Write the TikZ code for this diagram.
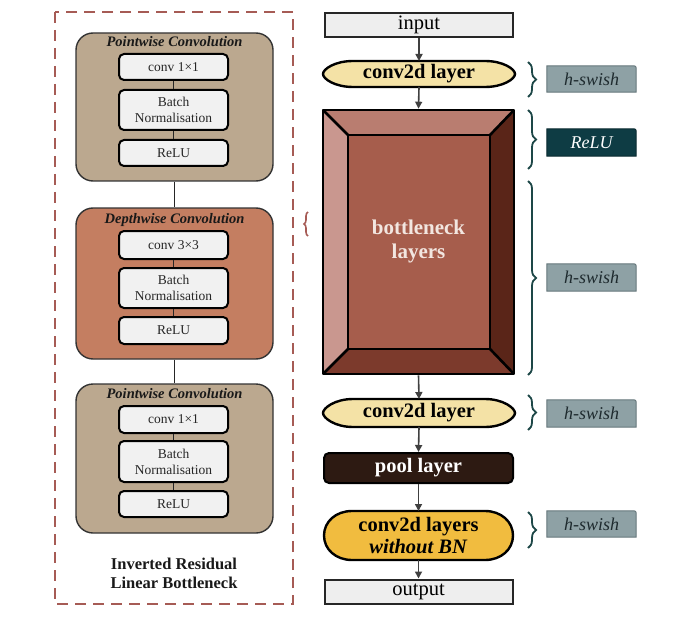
\documentclass[tikz,border=0pt]{standalone}
\usepackage{fontspec}
\setmainfont{Liberation Serif}
\usetikzlibrary{arrows.meta,decorations.pathreplacing,backgrounds}
\definecolor{dashc}{HTML}{A65B55}
\definecolor{pwc}{HTML}{BBA88F}
\definecolor{dwc}{HTML}{C47E61}
\definecolor{boxc}{HTML}{F1F1F1}
\definecolor{ioc}{HTML}{EEEEEE}
\definecolor{palec}{HTML}{F4E2A6}
\definecolor{goldc}{HTML}{F1BC3F}
\definecolor{poolc}{HTML}{2D1A12}
\definecolor{btop}{HTML}{B97D70}
\definecolor{bleft}{HTML}{C9978F}
\definecolor{bright}{HTML}{5A2518}
\definecolor{bbot}{HTML}{7C3A2C}
\definecolor{bcen}{HTML}{A65D4C}
\definecolor{btext}{HTML}{F2E6E0}
\definecolor{bracec}{HTML}{1D4747}
\definecolor{labfill}{HTML}{8EA1A5}
\definecolor{labdraw}{HTML}{66777B}
\definecolor{labtext}{HTML}{1E2A2E}
\definecolor{reluc}{HTML}{0E3C44}
\definecolor{arrc}{HTML}{404040}
\newcommand{\pillshape}[5]{%
  \draw[pillline, fill=#2] (#1.west) .. controls +(0,-#5) and +(-#4,0) .. ([xshift=#3]#1.north west)
    -- ([xshift=-#3]#1.north east) .. controls +(#4,0) and +(0,-#5) .. (#1.east)
    .. controls +(0,#5) and +(#4,0) .. ([xshift=-#3]#1.south east)
    -- ([xshift=#3]#1.south west) .. controls +(-#4,0) and +(0,#5) .. cycle;}
\newcommand{\labshape}[3]{%
  \draw[line width=1pt, draw=#3, fill=#2] (#1.south west) -- (#1.north west)
    -- ([xshift=-5pt]#1.north east) .. controls (#1.north east) .. ([yshift=-5pt]#1.north east)
    -- (#1.south east) -- cycle;}
\begin{document}
\begin{tikzpicture}[x=1pt,y=-1pt,
  blk/.style={draw=black!80, line width=1.4pt, rounded corners=17pt, minimum width=197pt, inner sep=0pt},
  ttl/.style={anchor=base, font=\fontsize{14.5}{16}\selectfont\bfseries\itshape, text=black!90},
  inbox/.style={draw=black, line width=2pt, fill=boxc, rounded corners=5pt, minimum width=109pt,
    inner sep=0pt, align=center, font=\fontsize{13.5}{16}\selectfont, text=black!85},
  inlink/.style={draw=black!85, line width=1.2pt},
  iobox/.style={draw=black!85, line width=2pt, fill=ioc, minimum width=188pt, minimum height=24pt,
    inner sep=0pt, font=\fontsize{20.5}{22}\selectfont},
  pilltxt/.style={minimum width=192pt, inner sep=0pt, outer sep=0pt, align=center,
    font=\fontsize{20.5}{24}\selectfont\bfseries},
  pillline/.style={draw=black, line width=2.4pt},
  bev/.style={draw=black, line width=2.6pt, line join=round},
  arr/.style={draw=arrc, line width=1.6pt, -{Triangle[length=7pt,width=7pt]}},
  brc/.style={draw=bracec, line width=1.8pt, decorate, decoration={brace, amplitude=8pt}},
  labtxt/.style={minimum width=89pt, minimum height=26pt, inner sep=0pt,
    font=\fontsize{18}{20}\selectfont\itshape, text=labtext}
]
\useasboundingbox (0,0) rectangle (684,628);

% ---------- left: inverted residual block ----------
\draw[draw=dashc, line width=1.8pt, dash pattern=on 11pt off 7pt] (55,12) rectangle (293,604);

\node[blk, fill=pwc, minimum height=148pt] (b1) at (174.5,107) {};
\node[blk, fill=dwc, minimum height=151pt] (b2) at (174.5,283.5) {};
\node[blk, fill=pwc, minimum height=149pt] (b3) at (174.5,458.5) {};
\draw[inlink] (b1.south) -- (b2.north);
\draw[inlink] (b2.south) -- (b3.north);

\node[ttl] (t1) at (174.5,47) {Pointwise Convolution};
\node[ttl] (t2) at (174.5,223) {Depthwise Convolution};
\node[ttl] (t3) at (174.5,398) {Pointwise Convolution};

\node[inbox, minimum height=26pt] (a1) at (173.5,67) {conv 1×1};
\node[inbox, minimum height=40pt] (a2) at (173.5,110) {Batch\\Normalisation};
\node[inbox, minimum height=26pt] (a3) at (173.5,153) {ReLU};
\draw[inlink] (a1.south) -- (a2.north);
\draw[inlink] (a2.south) -- (a3.north);

\node[inbox, minimum height=28pt] (d1) at (173.5,245) {conv 3×3};
\node[inbox, minimum height=40pt] (d2) at (173.5,288) {Batch\\Normalisation};
\node[inbox, minimum height=27pt] (d3) at (173.5,330.5) {ReLU};
\draw[inlink] (d1.south) -- (d2.north);
\draw[inlink] (d2.south) -- (d3.north);

\node[inbox, minimum height=27pt] (p1) at (173.5,419.5) {conv 1×1};
\node[inbox, minimum height=41pt] (p2) at (173.5,461.5) {Batch\\Normalisation};
\node[inbox, minimum height=26pt] (p3) at (173.5,504) {ReLU};
\draw[inlink] (p1.south) -- (p2.north);
\draw[inlink] (p2.south) -- (p3.north);

\node[align=center, font=\fontsize{16.5}{19}\selectfont\bfseries, text=black!90] (cap) at (174,573)
  {Inverted Residual\\Linear Bottleneck};

% small brace
\coordinate (lb1) at (308,236);
\coordinate (lb2) at (308,212);
\draw[draw=dashc, line width=1.6pt, decorate, decoration={brace, amplitude=4pt}] (lb1) -- (lb2);

% ---------- right: network ----------
\node[iobox] (in) at (419,25) {input};

\node[pilltxt, minimum height=26pt] (c1) at (419,74) {conv2d layer};

% bottleneck bevel
\fill[btop] (323,110) -- (514,110) -- (490,135) -- (348,135) -- cycle;
\fill[bleft] (323,110) -- (348,135) -- (348,349) -- (323,374) -- cycle;
\fill[bright] (514,110) -- (514,374) -- (490,349) -- (490,135) -- cycle;
\fill[bbot] (323,374) -- (514,374) -- (490,349) -- (348,349) -- cycle;
\fill[bcen] (348,135) rectangle (490,349);
\draw[bev] (323,110) rectangle (514,374);
\draw[bev] (348,135) rectangle (490,349);
\draw[bev] (323,110) -- (348,135);
\draw[bev] (514,110) -- (490,135);
\draw[bev] (323,374) -- (348,349);
\draw[bev] (514,374) -- (490,349);
\node[minimum width=191pt, minimum height=264pt, inner sep=0pt, outer sep=1.3pt, align=center,
  font=\fontsize{21}{24}\selectfont\bfseries, text=btext] (bn) at (418.5,242)
  {\raisebox{-4pt}{\begin{tabular}{@{}c@{}}bottleneck\\layers\end{tabular}}};

\node[pilltxt, minimum height=28pt] (c2) at (419,413) {conv2d layer};

\node[draw=black, line width=2pt, fill=poolc, rounded corners=5pt, minimum width=189pt, minimum height=30pt,
  inner sep=0pt, font=\fontsize{20.5}{22}\selectfont\bfseries, text=white] (pool) at (418.5,468) {pool layer};

\node[pilltxt, minimum height=49pt, minimum width=189pt] (c3) at (418.5,535.5)
  {conv2d layers\\[-2pt]\textit{without BN}};

\node[iobox] (out) at (418.5,591.5) {output};

\begin{scope}[on background layer]
  \pillshape{c1}{palec}{30pt}{18}{5}
  \pillshape{c2}{palec}{30pt}{18}{5}
  \pillshape{c3}{goldc}{28pt}{16}{14}
\end{scope}

\draw[arr] (in.south) -- (c1.north);
\draw[arr] (c1.south) -- (bn.north);
\draw[arr] (bn.south) -- (c2.north);
\draw[arr] (c2.south) -- (pool.north);
\draw[arr] (pool.south) -- (c3.north);
\draw[arr] (c3.south) -- (out.north);

% braces
\coordinate (r1a) at (528,62);  \coordinate (r1b) at (528,97);
\coordinate (r2a) at (528,110); \coordinate (r2b) at (528,169);
\coordinate (r3a) at (528,181); \coordinate (r3b) at (528,375);
\coordinate (r4a) at (528,395); \coordinate (r4b) at (528,430);
\coordinate (r5a) at (528,512); \coordinate (r5b) at (528,548);
\draw[brc] (r1a) -- (r1b);
\draw[brc] (r2a) -- (r2b);
\draw[brc] (r3a) -- (r3b);
\draw[brc] (r4a) -- (r4b);
\draw[brc] (r5a) -- (r5b);

% activation labels
\node[labtxt] (l1) at (591.5,79) {h-swish};
\node[labtxt, minimum height=27pt, text=white] (l2) at (591.5,142.5) {ReLU};
\node[labtxt, minimum height=27pt] (l3) at (591.5,277.5) {h-swish};
\node[labtxt, minimum height=27pt] (l4) at (591.5,413.5) {h-swish};
\node[labtxt] (l5) at (591.5,524) {h-swish};
\begin{scope}[on background layer]
  \labshape{l1}{labfill}{labdraw}
  \labshape{l2}{reluc}{reluc!70!black}
  \labshape{l3}{labfill}{labdraw}
  \labshape{l4}{labfill}{labdraw}
  \labshape{l5}{labfill}{labdraw}
\end{scope}
\end{tikzpicture}
\end{document}
